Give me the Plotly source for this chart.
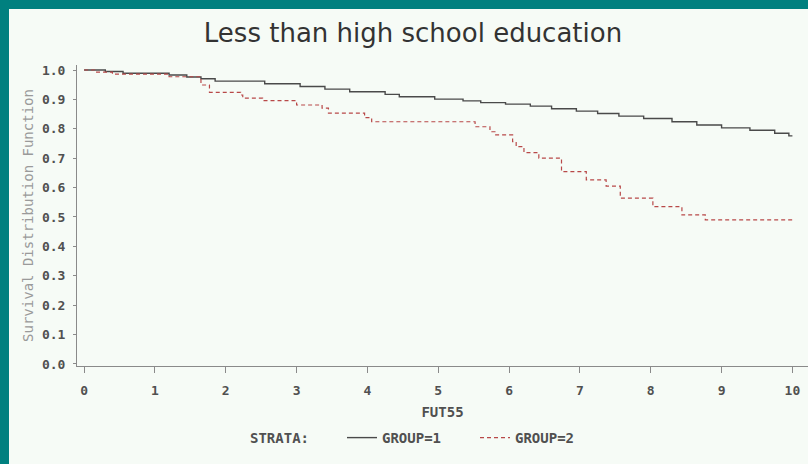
import plotly.graph_objects as go

# Kaplan-Meier estimates
group1_t = [0, 0.3, 0.55, 1.2, 1.45, 1.65, 1.85, 2.55, 3.05, 3.4, 3.75, 4.25, 4.45, 4.95,
            5.35, 5.6, 5.95, 6.3, 6.6, 6.95, 7.25, 7.55, 7.9, 8.3, 8.65, 9.0, 9.4, 9.75, 9.95, 10.0]
group1_s = [1.0, 0.995, 0.989, 0.983, 0.976, 0.970, 0.962, 0.953, 0.944, 0.935, 0.926, 0.917, 0.909, 0.901,
            0.895, 0.889, 0.884, 0.877, 0.868, 0.860, 0.852, 0.843, 0.835, 0.824, 0.813, 0.803, 0.795, 0.785, 0.776, 0.776]

group2_t = [0, 0.15, 0.4, 1.2, 1.65, 1.77, 2.21, 2.24, 2.52, 3.0, 3.36, 3.45, 3.96, 4.06,
            5.52, 5.73, 5.8, 6.05, 6.1, 6.21, 6.42, 6.74, 7.09, 7.37, 7.57, 8.03, 8.44, 8.77, 10.0]
group2_s = [1.0, 0.993, 0.986, 0.977, 0.949, 0.924, 0.915, 0.904, 0.896, 0.881, 0.870, 0.853, 0.838, 0.824,
            0.807, 0.790, 0.779, 0.756, 0.739, 0.719, 0.700, 0.654, 0.626, 0.605, 0.564, 0.535, 0.507, 0.490, 0.490]

x_ticks = list(range(0, 11))
y_ticks = [round(i * 0.1, 1) for i in range(11)]
y_tick_labels = [f"{v:.1f}" for v in y_ticks]

TEAL = "#00807f"
BG = "#f6fbf6"
AX = "#8a8a8a"
TXT = "#505050"
MONO = "DejaVu Sans Mono"

fig = go.Figure()
fig.add_trace(go.Scatter(x=group1_t, y=group1_s, mode="lines", line_shape="hv",
                         line=dict(color="#4a4a4a", width=1.4), name="GROUP=1"))
fig.add_trace(go.Scatter(x=group2_t, y=group2_s, mode="lines", line_shape="hv",
                         line=dict(color="#b84848", width=1.2, dash="4px,3px"), name="GROUP=2"))

# plot-area geometry in pixels (for the border strips and legend placement)
L, R, T, B = 77, 808, 65, 366
W, H = R - L, B - T
def px(p):
    return (p - L) / W
def py(p):
    return (B - p) / H

shapes = [
    dict(type="rect", xref="paper", yref="paper", x0=px(-5), x1=px(9), y0=py(470), y1=py(-5),
         fillcolor=TEAL, line=dict(width=0), layer="above"),
    dict(type="rect", xref="paper", yref="paper", x0=px(-5), x1=px(815), y0=py(9), y1=py(-5),
         fillcolor=TEAL, line=dict(width=0), layer="above"),
]

annotations = [
    dict(text="STRATA:", xref="paper", yref="paper", x=px(248), y=py(438), xanchor="left", yanchor="middle",
         showarrow=False, font=dict(family=MONO, size=14, color=TXT, weight="bold")),
]

fig.update_layout(
    width=808, height=464,
    margin=dict(l=L, r=808 - R, t=T, b=464 - B, pad=0, autoexpand=False),
    paper_bgcolor=BG, plot_bgcolor=BG,
    shapes=shapes, annotations=annotations,
    title=dict(text="Less than high school education", x=413 / 808, xref="container", xanchor="center",
               y=1 - 33 / 464, yanchor="middle",
               font=dict(family="DejaVu Sans", size=26, color="#333333")),
    showlegend=True,
    legend=dict(orientation="h", x=px(342), xanchor="left", y=py(438), yanchor="middle",
                bgcolor="rgba(0,0,0,0)", entrywidth=88, entrywidthmode="pixels",
                font=dict(family=MONO, size=14, color=TXT, weight="bold"), tracegroupgap=0),
    xaxis=dict(range=[-0.1, 10.22], tickvals=x_ticks, ticktext=[str(v) for v in x_ticks],
               showline=True, linecolor=AX, linewidth=1, ticks="outside", ticklen=6, tickcolor=AX,
               showgrid=False, zeroline=False,
               tickfont=dict(family=MONO, size=13, color=TXT, weight="bold"), ticklabelstandoff=6,
               title=dict(text="FUT55", font=dict(family=MONO, size=14, color=TXT, weight="bold"), standoff=10)),
    yaxis=dict(range=[-0.007, 1.017], tickvals=y_ticks, ticktext=y_tick_labels,
               showline=True, linecolor=AX, linewidth=1, ticks="outside", ticklen=3, tickcolor=AX,
               showgrid=False, zeroline=False,
               tickfont=dict(family=MONO, size=13, color=TXT, weight="bold"), ticklabelstandoff=5,
               title=dict(text="Survival Distribution Function", font=dict(family=MONO, size=14, color="#9a9a9a"),
                          standoff=5)),
)

fig.write_html("out.html", config={"displayModeBar": False},
               post_script="document.body.style.margin='0px';document.body.style.background='%s';" % BG)
